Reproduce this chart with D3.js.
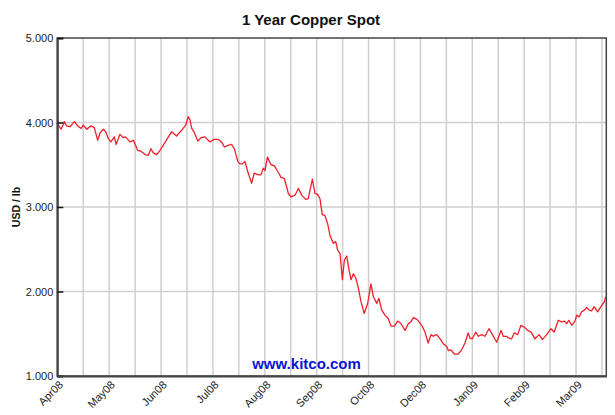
<!DOCTYPE html>
<html><head><meta charset="utf-8">
<script src="https://cdn.jsdelivr.net/npm/d3@7"></script>
<style>
body{margin:0;background:#fff}
svg{display:block}
text{font-family:Arial,"Liberation Sans",sans-serif}
</style>
</head><body>
<svg id="c" width="615" height="415"></svg>
<script>
const title = "1 Year Copper Spot";
const yLabel = "USD / lb";
const watermark = "www.kitco.com";

// trading-day index (0 = start of Apr08) and copper spot price, USD/lb
const tradingDay = [0,1.7,2.8,3.2,4.3,5.9,7.9,9.4,11,12,13.6,15.6,17.1,18.7,19.8,21.3,22.4,23.6,24.8,26.4,27.2,29,30.5,31.6,33.6,35.2,37.2,38.7,40.6,42.1,43.3,44.4,46,47.5,49,51.4,52.9,55.2,57.6,59.4,60.6,61.4,62.2,63.2,65,66.5,68.3,70.6,72.5,74.5,76,77.3,79,80.7,81.9,83.5,84.5,85.6,86.8,88.1,89.9,91.1,93,94.2,95.3,96.1,97.2,98.9,100.4,102,103.5,105,106.1,106.9,108.1,110,111.5,113.1,114.9,116.1,118,119.2,120.4,121.5,122.6,123.8,125.1,126.2,127.7,128.8,129.7,130.8,131.9,132.8,133.9,135,135.9,137,138.1,139.3,140.5,142,143.6,145.1,146.2,147.8,148.8,150.1,151.6,153.1,154.4,155.9,157.5,159,160.9,162.4,163.6,164.7,166.4,168.6,170.1,171.6,172.9,173.9,175.5,177.1,178.6,180.2,180.9,182.1,183.7,185.5,187.1,188.6,190.1,190.9,192,193.6,194.8,196.3,197.9,199.7,201.3,203.3,205.3,206.3,207.9,208.7,210.2,211.4,213,214.5,216,217.6,219.2,221,222.9,224.4,226.4,228.4,229.9,231.8,233.3,234.6,235.7,236.7,238,239.5,240.3,241.4,242.6,243.8,244.9,246,247.2,248.4,250,251.5,253.1,253.7];
const price = [3.99,3.92,3.98,4.01,3.96,3.95,4.01,3.96,3.93,3.97,3.92,3.96,3.94,3.79,3.88,3.92,3.89,3.81,3.77,3.83,3.74,3.86,3.82,3.83,3.77,3.79,3.67,3.66,3.62,3.61,3.69,3.64,3.62,3.67,3.73,3.83,3.89,3.84,3.91,3.97,4.07,4.03,3.93,3.89,3.78,3.82,3.83,3.77,3.80,3.80,3.77,3.71,3.73,3.74,3.69,3.54,3.51,3.51,3.54,3.42,3.28,3.40,3.38,3.38,3.46,3.43,3.59,3.50,3.49,3.42,3.35,3.34,3.24,3.16,3.12,3.14,3.22,3.14,3.09,3.10,3.33,3.16,3.15,3.10,2.91,2.90,2.80,2.66,2.57,2.59,2.49,2.45,2.14,2.37,2.42,2.25,2.14,2.21,2.16,2.04,1.88,1.74,1.86,2.09,1.94,1.86,1.92,1.78,1.72,1.68,1.59,1.59,1.65,1.62,1.54,1.62,1.64,1.69,1.67,1.60,1.52,1.39,1.49,1.47,1.49,1.44,1.38,1.35,1.30,1.31,1.26,1.26,1.31,1.39,1.51,1.45,1.44,1.52,1.47,1.49,1.47,1.56,1.49,1.40,1.54,1.47,1.47,1.45,1.44,1.51,1.49,1.60,1.58,1.54,1.52,1.44,1.49,1.43,1.49,1.56,1.52,1.66,1.64,1.65,1.62,1.66,1.60,1.65,1.72,1.70,1.76,1.78,1.81,1.78,1.77,1.82,1.76,1.82,1.88,1.94];

const gridDays = [0,12,24,36,48,60,72,84,96,108,120,132,144,156,168,180,192,204,216,228,240,252];
const monthTickDays = [0,24,48,72,96,120,144,168,192,216,240];
const monthLabels = ["Apr08","May08","Jun08","Jul08","Aug08","Sep08","Oct08","Dec08","Jan09","Feb09","Mar09"];
const yTicks = [1,2,3,4,5];
const dayDomain = [0,254];

const svg = d3.select("#c");
const L = 57.3, R = 606.3, T = 38, B = 376;
const x = d3.scaleLinear().domain(dayDomain).range([L, R]);
const y = d3.scaleLinear().domain([1,5]).range([B, T]);

// vertical gridlines
svg.append("g").selectAll("line").data(gridDays).join("line")
  .attr("x1", d => x(d)).attr("x2", d => x(d))
  .attr("y1", T).attr("y2", B)
  .attr("stroke", "#cfcfcf").attr("stroke-width", 1.5);
// horizontal gridlines
svg.append("g").selectAll("line").data(yTicks.slice(1, -1)).join("line")
  .attr("x1", L).attr("x2", R)
  .attr("y1", d => y(d)).attr("y2", d => y(d))
  .attr("stroke", "#cfcfcf").attr("stroke-width", 1.5);

// price line
const pts = tradingDay.map((d, i) => [d, price[i]]);
svg.append("path").datum(pts)
  .attr("fill", "none").attr("stroke", "#f0202a").attr("stroke-width", 1.3)
  .attr("stroke-linejoin", "round")
  .attr("d", d3.line().x(d => x(d[0])).y(d => y(d[1])));

// watermark
svg.append("text").attr("x", 306.5).attr("y", 369)
  .attr("text-anchor", "middle").attr("font-size", 15).attr("font-weight", "bold")
  .attr("fill", "#0a14d0").text(watermark);

// frame
svg.append("rect").attr("x", L).attr("y", T).attr("width", R - L).attr("height", B - T)
  .attr("fill", "none").attr("stroke", "#444").attr("stroke-width", 1.5);

// y axis (ticks pointing inward)
const yAxis = svg.append("g").attr("transform", `translate(${L},0)`)
  .call(d3.axisRight(y).tickValues(yTicks).tickSize(6).tickFormat(() => ""));
yAxis.select(".domain").attr("stroke", "#444").attr("stroke-width", 2);
yAxis.selectAll(".tick line").attr("stroke", "#111").attr("stroke-width", 1.5);
svg.append("g").selectAll("text").data(yTicks).join("text")
  .attr("x", L - 4).attr("y", d => y(d) + 4)
  .attr("text-anchor", "end").attr("font-size", 11).attr("fill", "#222")
  .text(d => d3.format(".3f")(d));

// x axis
const xAxis = svg.append("g").attr("transform", `translate(0,${B})`)
  .call(d3.axisBottom(x).tickValues(monthTickDays).tickSize(0).tickFormat(() => ""));
xAxis.select(".domain").attr("stroke", "#444").attr("stroke-width", 2);
svg.append("g").selectAll("text").data(monthTickDays).join("text")
  .attr("transform", (d) => `translate(${x(d) + 1},${B + 4}) rotate(-45)`)
  .attr("text-anchor", "end").attr("font-size", 11).attr("fill", "#222")
  .attr("dy", "0.7em")
  .text((d, i) => monthLabels[i]);

// title
svg.append("text").attr("x", 311).attr("y", 25)
  .attr("text-anchor", "middle").attr("font-size", 15).attr("font-weight", "bold")
  .attr("fill", "#111").text(title);

// y label
svg.append("text").attr("transform", `translate(20,${(T + B) / 2}) rotate(-90)`)
  .attr("text-anchor", "middle").attr("font-size", 10.5).attr("font-weight", "bold")
  .attr("fill", "#111").text(yLabel);
</script>
</body></html>
